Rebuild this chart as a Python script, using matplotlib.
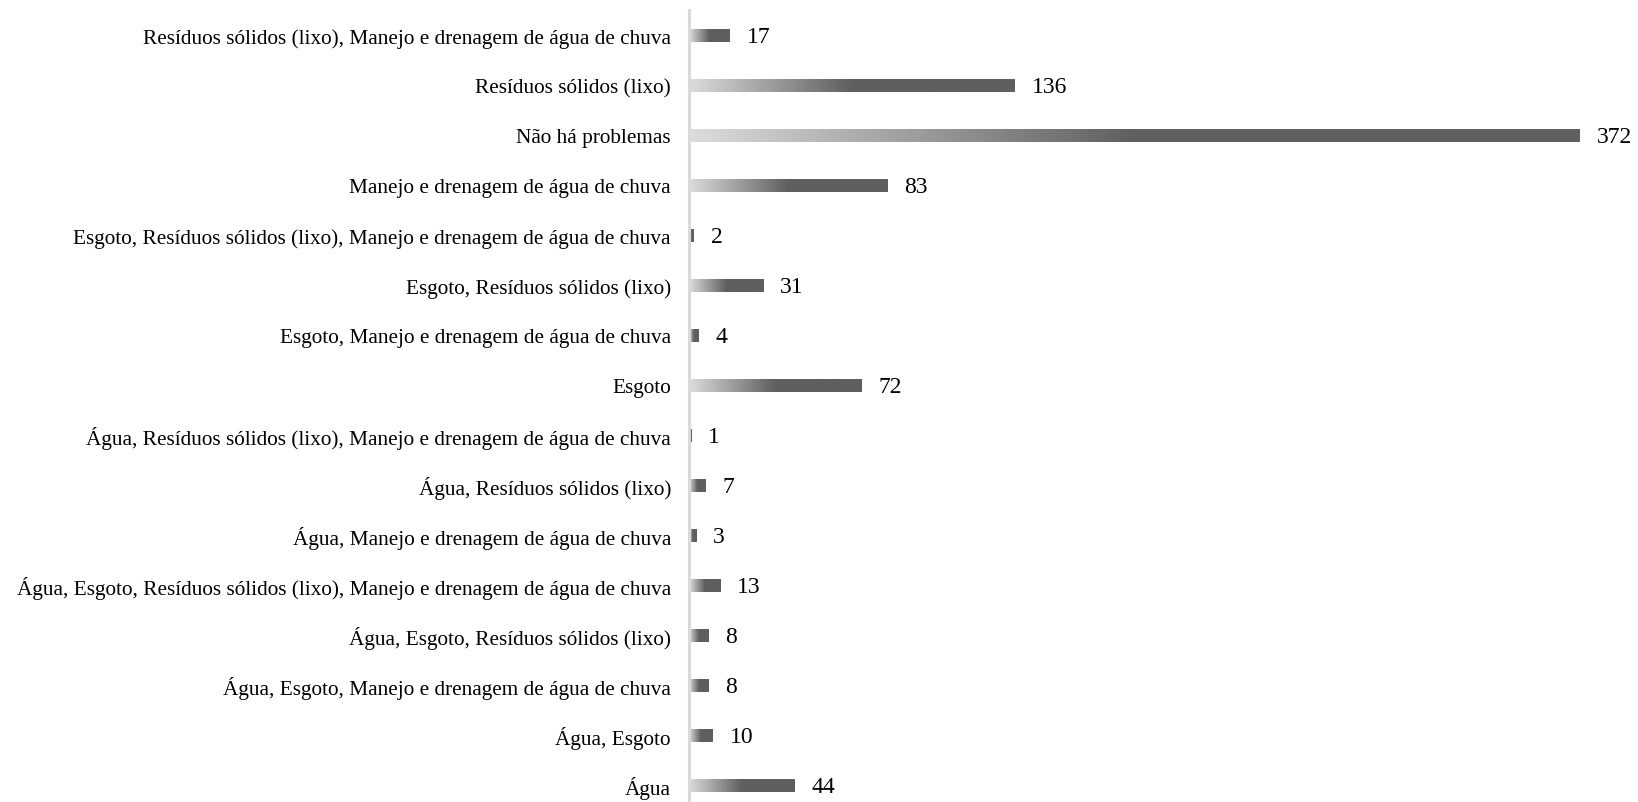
import matplotlib
matplotlib.use("Agg")
import matplotlib.pyplot as plt
import numpy as np
from matplotlib.colors import LinearSegmentedColormap

# categorias de baixo para cima (como no gráfico)
categories = [
    "Água",
    "Água, Esgoto",
    "Água, Esgoto, Manejo e drenagem de água de chuva",
    "Água, Esgoto, Resíduos sólidos (lixo)",
    "Água, Esgoto, Resíduos sólidos (lixo), Manejo e drenagem de água de chuva",
    "Água, Manejo e drenagem de água de chuva",
    "Água, Resíduos sólidos (lixo)",
    "Água, Resíduos sólidos (lixo), Manejo e drenagem de água de chuva",
    "Esgoto",
    "Esgoto, Manejo e drenagem de água de chuva",
    "Esgoto, Resíduos sólidos (lixo)",
    "Esgoto, Resíduos sólidos (lixo), Manejo e drenagem de água de chuva",
    "Manejo e drenagem de água de chuva",
    "Não há problemas",
    "Resíduos sólidos (lixo)",
    "Resíduos sólidos (lixo), Manejo e drenagem de água de chuva",
]
counts = [44, 10, 8, 8, 13, 3, 7, 1, 72, 4, 31, 2, 83, 372, 136, 17]

plt.rcParams["font.family"] = ["Liberation Serif", "DejaVu Serif"]

W, H = 1638, 803
fig = plt.figure(figsize=(W / 100, H / 100), dpi=100)
ax = fig.add_axes([689 / W, 0, 891 / W, (H - 11) / H])

# gradiente estilo Excel: claro -> escuro até metade da barra, depois sólido
grad = LinearSegmentedColormap.from_list(
    "grad", [(0.0, "#dcdcdc"), (0.5, "#5f5f5f"), (1.0, "#5f5f5f")])
ramp = np.linspace(0, 1, 256).reshape(1, -1)

bar_h = 0.26
for i, v in enumerate(counts):
    ax.imshow(ramp, cmap=grad, aspect="auto", interpolation="bilinear",
              extent=(0, v, i - bar_h / 2, i + bar_h / 2), zorder=2)
    ax.text(v + 7, i - 0.03, str(v), va="center", ha="left", fontsize=17,
            clip_on=False)

ax.set_xlim(0, 372)
ax.set_ylim(-0.34, 15.51)
ax.set_yticks(range(len(categories)))
ax.set_yticklabels(categories, fontsize=15.3)
ax.tick_params(axis="y", length=0, pad=13)
ax.set_xticks([])
for s in ("top", "right", "bottom"):
    ax.spines[s].set_visible(False)
ax.spines["left"].set_color("#d9d9d9")
ax.spines["left"].set_linewidth(2.2)
ax.patch.set_alpha(0)

fig.savefig("out.png", dpi=100)
